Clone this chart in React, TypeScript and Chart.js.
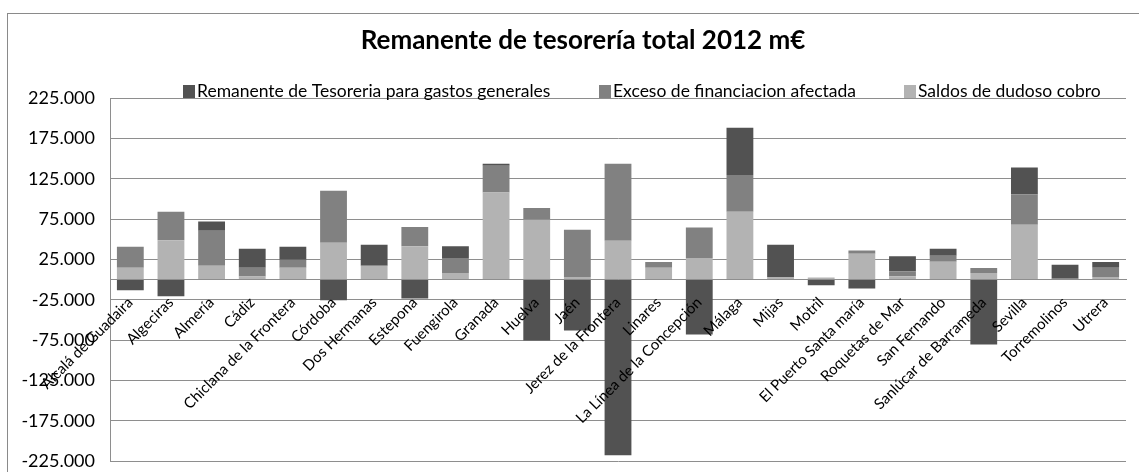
import React, { useEffect, useRef } from 'react';
import { Chart, registerables } from 'chart.js';

Chart.register(...registerables);

// ---- data (m€) ----
const categories = [
  'Alcalá de Guadaira', 'Algeciras', 'Almería', 'Cádiz', 'Chiclana de la Frontera',
  'Córdoba', 'Dos Hermanas', 'Estepona', 'Fuengirola', 'Granada', 'Huelva', 'Jaén',
  'Jerez de la Frontera', 'Linares', 'La Línea de la Concepción', 'Málaga', 'Mijas',
  'Motril', 'El Puerto Santa maría', 'Roquetas de Mar', 'San Fernando',
  'Sanlúcar de Barrameda', 'Sevilla', 'Torremolinos', 'Utrera',
];

const remanenteGastosGenerales = [
  -13200, -20600, 11500, 23500, 16000, -25600, 26000, -23500, 14400, 2500, -75400, -63000,
  -217500, 0, -68000, 58500, 40000, -7000, -11100, 18500, 8700, -80300, 33400, 17300, 7000,
];

const excesoFinanciacion = [
  26000, 35500, 43300, 11100, 9900, 64300, 0, 24000, 18500, 33000, 14400, 58500,
  95200, 7000, 37800, 45700, 0, 0, 4100, 6200, 7400, 6200, 37500, 0, 11500,
];

const saldosDudosoCobro = [
  14800, 48600, 17300, 3700, 14800, 45700, 17300, 41200, 8300, 108000, 74200, 3300,
  48200, 14800, 26800, 84000, 3300, 2500, 32100, 4100, 22200, 8300, 68000, 1000, 3300,
];

const yTickValues = [-225000, -175000, -125000, -75000, -25000, 25000, 75000, 125000, 175000, 225000];

const seriesLabels = [
  'Remanente de Tesoreria para gastos generales',
  'Exceso de financiacion afectada',
  'Saldos de dudoso cobro',
];

const titleText = 'Remanente de tesorería total 2012 m€';

// ---- styles ----
const FONT = 'Lato';
const COLOR_DARK = '#525252';
const COLOR_MID = '#818181';
const COLOR_LIGHT = '#b3b3b3';
const GRID = '#8e8e8e';
const LEGEND_X = [183, 599, 904];

function formatThousands(v: number): string {
  const sign = v < 0 ? '-' : '';
  const s = Math.abs(Math.round(v)).toString().replace(/\B(?=(\d{3})+(?!\d))/g, '.');
  return sign + s;
}

const framePlugin = {
  id: 'frame',
  beforeDraw(chart: any) {
    const ctx = chart.ctx;
    ctx.save();
    ctx.fillStyle = '#ffffff';
    ctx.fillRect(0, 0, chart.width, chart.height);
    ctx.strokeStyle = '#8a8a8a';
    ctx.lineWidth = 1;
    ctx.strokeRect(7.5, 13.5, chart.width + 40, chart.height + 40);
    ctx.restore();
  },
};

const titleLegendPlugin = {
  id: 'titleLegend',
  afterDraw(chart: any) {
    const ctx = chart.ctx;
    ctx.save();
    ctx.fillStyle = '#000';
    ctx.font = `bold 26px ${FONT}`;
    ctx.textAlign = 'center';
    ctx.textBaseline = 'middle';
    ctx.fillText(titleText, 583, 41);

    const ds = chart.data.datasets.slice().reverse();
    ctx.font = `17.5px ${FONT}`;
    ctx.textAlign = 'left';
    ctx.textBaseline = 'alphabetic';
    ds.forEach((d: any, i: number) => {
      const x = LEGEND_X[i];
      ctx.fillStyle = d.backgroundColor;
      ctx.fillRect(x, 85, 12, 13);
      ctx.fillStyle = '#000';
      ctx.fillText(d.label, x + 14, 97);
    });
    ctx.restore();
  },
};

export default function App() {
  const ref = useRef<HTMLCanvasElement | null>(null);

  useEffect(() => {
    document.body.style.margin = '0';
    let chart: Chart | null = null;
    let cancelled = false;
    const build = () => {
      if (cancelled || !ref.current) return;
      chart = new Chart(ref.current, {
        type: 'bar',
        data: {
          labels: categories,
          datasets: [
            { label: seriesLabels[2], data: saldosDudosoCobro, backgroundColor: COLOR_LIGHT },
            { label: seriesLabels[1], data: excesoFinanciacion, backgroundColor: COLOR_MID },
            { label: seriesLabels[0], data: remanenteGastosGenerales, backgroundColor: COLOR_DARK },
          ],
        },
        options: {
          animation: false,
          responsive: false,
          devicePixelRatio: 1,
          layout: { padding: { top: 98, right: 13, bottom: 10, left: 0 } },
          datasets: { bar: { categoryPercentage: 1, barPercentage: 0.66 } },
          plugins: { legend: { display: false }, title: { display: false }, tooltip: { enabled: false } },
          scales: {
            x: {
              type: 'category',
              stacked: true,
              position: { y: 0 } as any,
              grid: { display: false, drawTicks: false },
              border: { display: true, color: GRID, width: 1, z: 1 },
              ticks: {
                z: 1,
                autoSkip: false,
                minRotation: 45,
                maxRotation: 45,
                padding: 14,
                color: '#000',
                font: { family: FONT, size: 15 },
              },
            },
            y: {
              type: 'linear',
              stacked: true,
              min: -225000,
              max: 225000,
              afterBuildTicks: (scale: any) => {
                scale.ticks = yTickValues.map((v) => ({ value: v }));
              },
              afterFit: (scale: any) => {
                scale.width = 110;
              },
              grid: { color: GRID, lineWidth: 1, drawTicks: true, tickLength: 15, tickColor: 'rgba(0,0,0,0)' },
              border: { display: true, color: GRID, width: 1 },
              ticks: {
                padding: 0,
                color: '#000',
                font: { family: FONT, size: 18 },
                callback: (v: any) => formatThousands(Number(v)),
              },
            },
          },
        },
        plugins: [framePlugin, titleLegendPlugin],
      });
    };
    const fontsApi: any = (document as any).fonts;
    if (fontsApi && fontsApi.load) {
      Promise.all([
        fontsApi.load(`15px ${FONT}`),
        fontsApi.load(`bold 26px ${FONT}`),
      ]).then(build, build);
    } else {
      build();
    }
    return () => {
      cancelled = true;
      if (chart) chart.destroy();
    };
  }, []);

  return (
    <div style={{ width: 1139, height: 472 }}>
      <canvas ref={ref} width={1139} height={472} style={{ width: 1139, height: 472, display: 'block' }} />
    </div>
  );
}
